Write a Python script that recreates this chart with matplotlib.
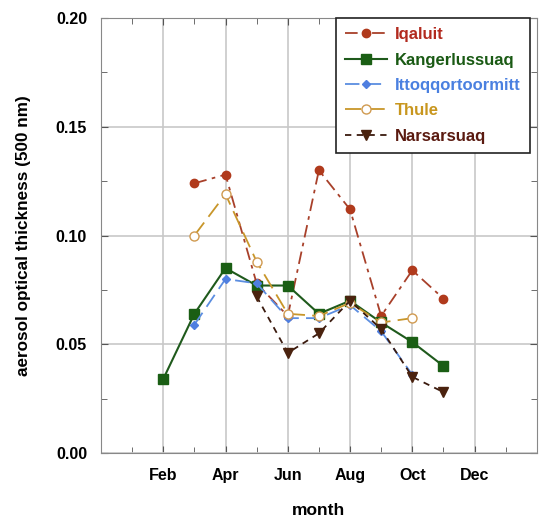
import numpy as np
import matplotlib
matplotlib.use('Agg')
import matplotlib.pyplot as plt
from matplotlib.ticker import MultipleLocator

plt.rcParams['font.family'] = ['Liberation Sans', 'DejaVu Sans']
plt.rcParams['font.weight'] = 'bold'

# month numbers (Feb = 2 ... Dec = 12)
tick_months = [2, 4, 6, 8, 10, 12]
tick_labels = ['Feb', 'Apr', 'Jun', 'Aug', 'Oct', 'Dec']

# station data
iqaluit_m = [3, 4, 5, 6, 7, 8, 9, 10, 11]
iqaluit_v = [0.124, 0.128, 0.078, 0.063, 0.130, 0.112, 0.063, 0.084, 0.071]

kanger_m = [2, 3, 4, 5, 6, 7, 8, 9, 10, 11]
kanger_v = [0.034, 0.064, 0.085, 0.077, 0.077, 0.064, 0.070, 0.060, 0.051, 0.040]

ittoq_m = [3, 4, 5, 6, 7, 8, 9, 10]
ittoq_v = [0.059, 0.080, 0.078, 0.062, 0.062, 0.068, 0.056, 0.036]

thule_m = [3, 4, 5, 6, 7, 8, 9, 10]
thule_v = [0.100, 0.119, 0.088, 0.064, 0.063, 0.069, 0.060, 0.062]

narsar_m = [5, 6, 7, 8, 9, 10, 11]
narsar_v = [0.072, 0.046, 0.055, 0.070, 0.057, 0.035, 0.028]

fig = plt.figure(figsize=(5.5, 5.22), dpi=100)
ax = fig.add_axes([0.1836, 0.1322, 0.7924, 0.8333])

ax.plot(iqaluit_m, iqaluit_v, color='#a8402a', lw=1.3, dashes=(7, 3, 2, 3),
        marker='o', ms=6, mfc='#b03a1c', mec='#b03a1c', label='Iqaluit', zorder=3)
ax.plot(kanger_m, kanger_v, color='#1f5a1c', lw=1.5, ls='-',
        marker='s', ms=6.5, mfc='#1a5e14', mec='#1a5e14', label='Kangerlussuaq', zorder=3)
ax.plot(ittoq_m, ittoq_v, color='#5b8de0', lw=1.3, dashes=(8, 4),
        marker='D', ms=4.5, mfc='#4f7fe0', mec='#4f7fe0', label='Ittoqqortoormitt', zorder=3)
ax.plot(thule_m, thule_v, color='#c8962a', lw=1.3, dashes=(9, 4),
        marker='o', ms=6.5, mfc='white', mec='#d09a50', label='Thule', zorder=3)
ax.plot(narsar_m, narsar_v, color='#3a1a0e', lw=1.3, dashes=(3.5, 3),
        marker='v', ms=7, mfc='#4a220e', mec='#4a220e', label='Narsarsuaq', zorder=3)

ax.set_xlim(0, 14)
ax.set_ylim(0, 0.2)
ax.set_xticks(tick_months)
ax.set_xticklabels(tick_labels)
ax.xaxis.set_minor_locator(MultipleLocator(1))
ax.yaxis.set_major_locator(MultipleLocator(0.05))
ax.yaxis.set_minor_locator(MultipleLocator(0.025))
ax.yaxis.set_major_formatter(matplotlib.ticker.FormatStrFormatter('%.2f'))
ax.tick_params(which='both', direction='in', top=True, right=True, labelsize=11.5,
               color='#555555')
ax.tick_params(which='major', length=5, pad=10)
ax.tick_params(which='minor', length=4)
ax.tick_params(axis='x', pad=10.5)
ax.grid(True, which='major', color='#c8c8c8', lw=1.2)
for s in ax.spines.values():
    s.set_color('#888888')

ax.set_xlabel('month', fontsize=12.5, fontweight='bold', labelpad=15)
ax.set_ylabel('aerosol optical thickness (500 nm)', fontsize=12.3, fontweight='bold', labelpad=18)

leg = ax.legend(loc='upper right', bbox_to_anchor=(0.985, 1.0), fontsize=12,
                handlelength=2.5, handletextpad=0.5, borderpad=0.55, labelspacing=0.62,
                fancybox=False, framealpha=1, edgecolor='#222222', borderaxespad=0)
leg.get_frame().set_linewidth(1.2)
text_colors = ['#b22a1e', '#1a5a14', '#4a80e0', '#c8961e', '#5a1a10']
for t, c in zip(leg.get_texts(), text_colors):
    t.set_color(c)
    t.set_fontweight('bold')

fig.savefig('out.png', dpi=100)
